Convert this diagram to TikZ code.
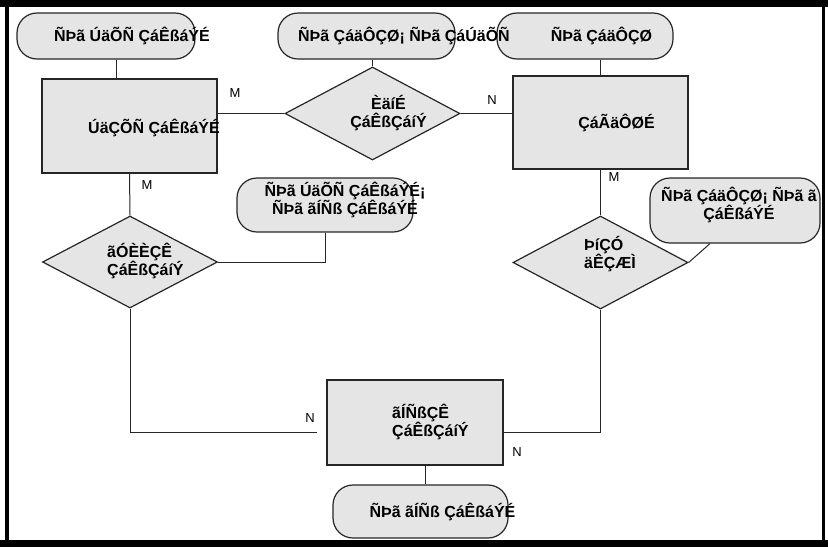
\documentclass[tikz,border=0pt]{standalone}
\usepackage{fontspec}
\setmainfont{Liberation Sans}
\usetikzlibrary{shapes,calc}

\begin{document}
\begin{tikzpicture}[x=1pt,y=-1pt]
      \tikzset{entity box/.style={rectangle,
          draw=black!85,
          fill=black!10,
          line width=1.2pt,
          minimum width=175pt,
          minimum height=#1,
          inner sep=0pt},
        relation box/.style={diamond,
          draw=black!85,
          fill=black!10,
          line width=1.2pt,
          minimum width=175pt,
          minimum height=93pt,
          inner sep=0pt},
        attribute box/.style={rectangle,
          rounded corners=20pt,
          draw=black!85,
          fill=black!10,
          line width=1.2pt,
          minimum width=#1,
          inner sep=0pt},
        box text/.style={font=\fontsize{16}{18}\selectfont\bfseries,
          inner sep=0pt},
        card/.style={font=\fontsize{13}{13}\selectfont,inner sep=0pt},
        link/.style={line width=1pt,black!85}
      }
      \useasboundingbox (0,0) rectangle (828,547);

      \node [attribute box=178pt,minimum height=46pt] (e1) at (106,36) {};
      \node [attribute box=177pt,minimum height=46pt] (e2) at (366.5,36) {};
      \node [attribute box=176pt,minimum height=46pt] (e3) at (585,36) {};
      \node [entity box=94pt] (b1) at (129.5,126) {};
      \node [relation box] (d1) at (372.5,113.5) {};
      \node [entity box=93pt] (b2) at (600.5,122.5) {};
      \node [attribute box=176pt,minimum height=54pt] (e4) at (325,205) {};
      \node [attribute box=170pt,minimum height=65pt] (e5) at (735,210.5) {};
      \node [relation box,minimum height=92pt] (d2) at (130,262) {};
      \node [relation box] (d3) at (600.5,262.5) {};
      \node [entity box=85pt,minimum width=176pt] (b3) at (415,422.5) {};
      \node [attribute box=175pt,minimum height=53pt] (e6) at (420.5,511.5) {};

      \draw [link] ([xshift=10pt]e1.south) -- ([xshift=10pt]e1.south |- b1.north);
      \draw [link] (d1.west) -- (d1.west -| b1.east);
      \draw [link] (d1.north) -- (d1.north |- e2.south);
      \draw [link] (d1.east) -- (d1.east -| b2.west);
      \draw [link] (b2.north) -- (b2.north |- e3.south);
      \draw [link] (b2.south) -- (d3.north);
      \draw [link] (d3.east) -- ([xshift=-25pt]e5.south);
      \draw [link] (b1.south) -- (d2.north);
      \draw [link] (d2.east) -| (e4.south);
      \draw [link] (d2.south) |- ([xshift=-9pt,yshift=-9.5pt]b3.west);
      \draw [link] (d3.south) |- ([yshift=-9.5pt]b3.east);
      \draw [link] ([xshift=10pt]b3.south) -- ([xshift=10pt]b3.south |- e6.north);

      \node [box text] (t1) at ([xshift=26pt]e1.center) {ÑÞã ÚäÕÑ ÇáÊßáÝÉ};
      \node [box text] (t2) at ([xshift=37.5pt]e2.center) {ÑÞã ÇáäÔÇØ¡ ÑÞã ÇáÚäÕÑ};
      \node [box text] (t3) at ([xshift=16.5pt]e3.center) {ÑÞã ÇáäÔÇØ};
      \node [box text] (t4) at ([xshift=24.5pt,yshift=-2pt]b1.center) {ÚäÇÕÑ ÇáÊßáÝÉ};
      \node [box text,align=center] (t5) at ([xshift=16pt]d1.center) {ÈäíÉ\\ÇáÊßÇáíÝ};
      \node [box text] (t6) at ([xshift=16pt]b2.center) {ÇáÃäÔØÉ};
      \node [box text,align=center] (t7) at ([xshift=20pt,yshift=5.5pt]e4.center) {ÑÞã ÚäÕÑ ÇáÊßáÝÉ¡\\ÑÞã ãÍÑß ÇáÊßáÝÉ};
      \node [box text,align=center] (t8) at (739,204.5) {ÑÞã ÇáäÔÇØ¡ ÑÞã ã\\ÇáÊßáÝÉ};
      \node [box text,align=left,anchor=west] (t9) at (107,261) {ãÓÈÈÇÊ\\ÇáÊßÇáíÝ};
      \node [box text,align=left,anchor=west] (t10) at (584,254) {ÞíÇÓ\\äÊÇÆÌ};
      \node [box text,align=left,anchor=west] (t11) at (392,421.5) {ãÍÑßÇÊ\\ÇáÊßÇáíÝ};
      \node [box text] (t12) at ([xshift=22pt]e6.center) {ÑÞã ãÍÑß ÇáÊßáÝÉ};

      \node [card] (m1) at (235,93) {M};
      \node [card] (n1) at (492,100) {N};
      \node [card] (m2) at (147,185) {M};
      \node [card] (m3) at (614,177) {M};
      \node [card] (n2) at (310,418) {N};
      \node [card] (n3) at (517,452) {N};

      \draw [line width=7pt] (0,3.5) -- (828,3.5);
      \draw [line width=7pt] (0,543.5) -- (828,543.5);
      \draw [line width=4pt] (7,0) -- (7,547);
      \draw [line width=3pt] (823,0) -- (823,547);
    \end{tikzpicture}
\end{document}
